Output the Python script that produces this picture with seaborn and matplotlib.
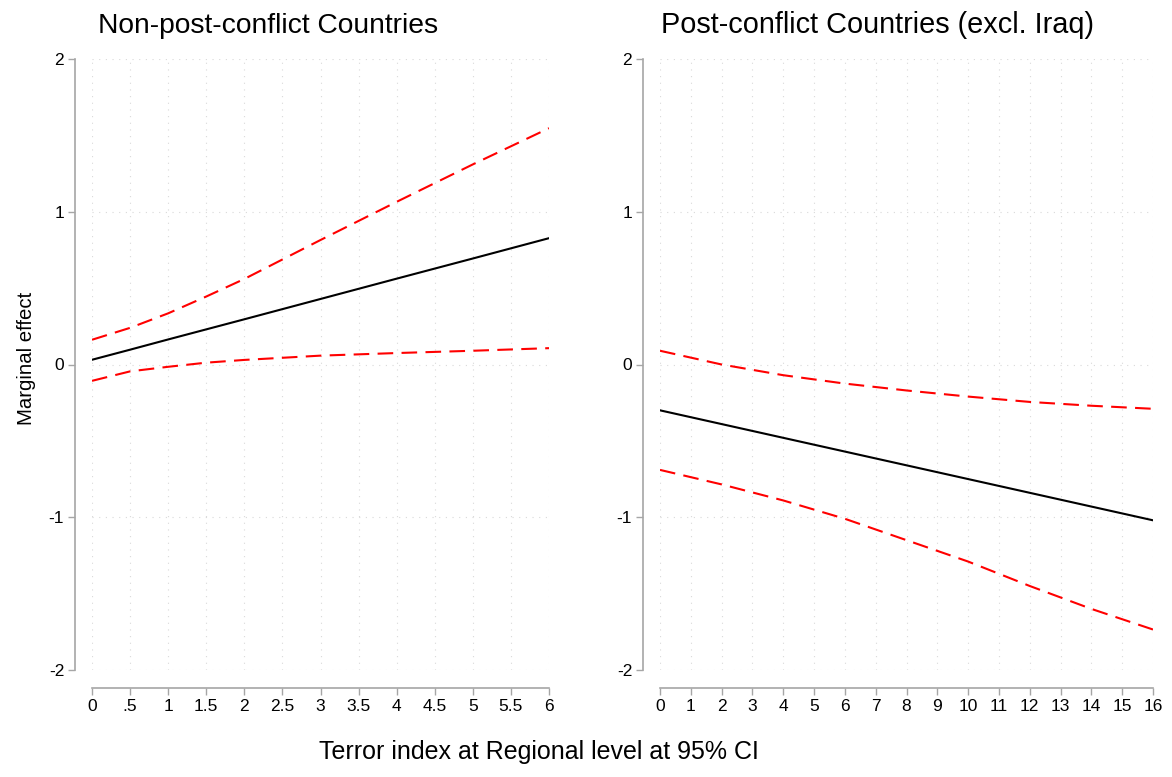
import numpy as np
import pandas as pd
import seaborn as sns
import matplotlib
matplotlib.use("Agg")
import matplotlib.pyplot as plt

# Marginal effect of the terror index with 95% confidence bounds
# Panel 1: non-post-conflict countries
x_nonpc = [0, 0.5, 1, 1.5, 2, 3, 4, 5, 6]
me_nonpc = [0.031, 0.097, 0.164, 0.230, 0.296, 0.429, 0.562, 0.694, 0.827]
upper_nonpc = [0.162, 0.240, 0.335, 0.445, 0.560, 0.815, 1.065, 1.310, 1.547]
lower_nonpc = [-0.107, -0.045, -0.015, 0.012, 0.030, 0.058, 0.075, 0.090, 0.107]

# Panel 2: post-conflict countries (Iraq excluded)
x_pc = [0, 2, 4, 6, 8, 10, 12, 14, 16]
me_pc = [-0.30, -0.39, -0.48, -0.57, -0.66, -0.75, -0.84, -0.93, -1.02]
upper_pc = [0.09, 0.00, -0.07, -0.125, -0.17, -0.21, -0.245, -0.27, -0.29]
lower_pc = [-0.69, -0.785, -0.89, -1.01, -1.15, -1.29, -1.45, -1.60, -1.735]

titles = ["Non-post-conflict Countries", "Post-conflict Countries (excl. Iraq)"]
title_sizes = [20.3, 20.8]
xticks_nonpc = [0, 0.5, 1, 1.5, 2, 2.5, 3, 3.5, 4, 4.5, 5, 5.5, 6]
xticklabels_nonpc = ["0", ".5", "1", "1.5", "2", "2.5", "3", "3.5", "4", "4.5", "5", "5.5", "6"]
xticks_pc = list(range(0, 17))
yticks = [-2, -1, 0, 1, 2]
ylabel = "Marginal effect"
xlabel = "Terror index at Regional level at 95% CI"

sns.set_style("white")
plt.rcParams["font.family"] = ["Liberation Sans", "DejaVu Sans"]
plt.rcParams["text.color"] = "black"
plt.rcParams["axes.labelcolor"] = "black"

fig = plt.figure(figsize=(11.72, 7.77), dpi=100)
W, H = 1172, 777
ax1 = fig.add_axes([92 / W, 107 / H, 457 / W, 611 / H])
ax2 = fig.add_axes([660 / W, 107 / H, 493 / W, 611 / H])

panels = [
    (ax1, x_nonpc, me_nonpc, upper_nonpc, lower_nonpc, (0, 6), xticks_nonpc, xticklabels_nonpc),
    (ax2, x_pc, me_pc, upper_pc, lower_pc, (0, 16), xticks_pc, [str(t) for t in xticks_pc]),
]

spine_grey = "#a6a6a6"
for i, (ax, xs, me, up, lo, xlim, xt, xtl) in enumerate(panels):
    df = pd.DataFrame({"x": xs, "me": me, "up": up, "lo": lo})
    for col in ["up", "lo"]:
        sns.lineplot(data=df, x="x", y=col, ax=ax, color="#ff0000", linewidth=1.5)
        ax.lines[-1].set_dashes((7.5, 4.0))
    sns.lineplot(data=df, x="x", y="me", ax=ax, color="black", linewidth=1.5)

    ax.set_xlim(*xlim)
    ax.set_ylim(-2, 2)
    ax.set_xticks(xt)
    ax.set_xticklabels(xtl)
    ax.set_yticks(yticks)
    ax.set_yticklabels([str(t) for t in yticks])
    ax.set_xlabel("")
    ax.set_ylabel("")

    ax.grid(True, color="#d9d9d9", linestyle=(0, (1, 5)), linewidth=0.8)
    ax.set_axisbelow(True)

    for s in ["top", "right"]:
        ax.spines[s].set_visible(False)
    ax.spines["left"].set_position(("outward", 12))
    ax.spines["bottom"].set_position(("outward", 13))
    for s in ["left", "bottom"]:
        ax.spines[s].set_color(spine_grey)
        ax.spines[s].set_linewidth(1.2)
    ax.tick_params(axis="both", which="major", direction="out", length=5,
                   width=1.0, color=spine_grey, labelsize=12.5, pad=3,
                   labelcolor="black", bottom=True, left=True)

    ax.set_title(titles[i], loc="left", fontsize=title_sizes[i], pad=19,
                 color="black", x=0.013 if i == 0 else 0.003)

ax1.set_ylabel(ylabel, fontsize=14.7, labelpad=11, color="black")
ax1.yaxis.set_label_coords(-0.122, 0.51)
fig.text(539 / W, 1 - 752 / H, xlabel, fontsize=18, ha="center", va="center",
         color="black")

fig.savefig("out.png", dpi=100)
